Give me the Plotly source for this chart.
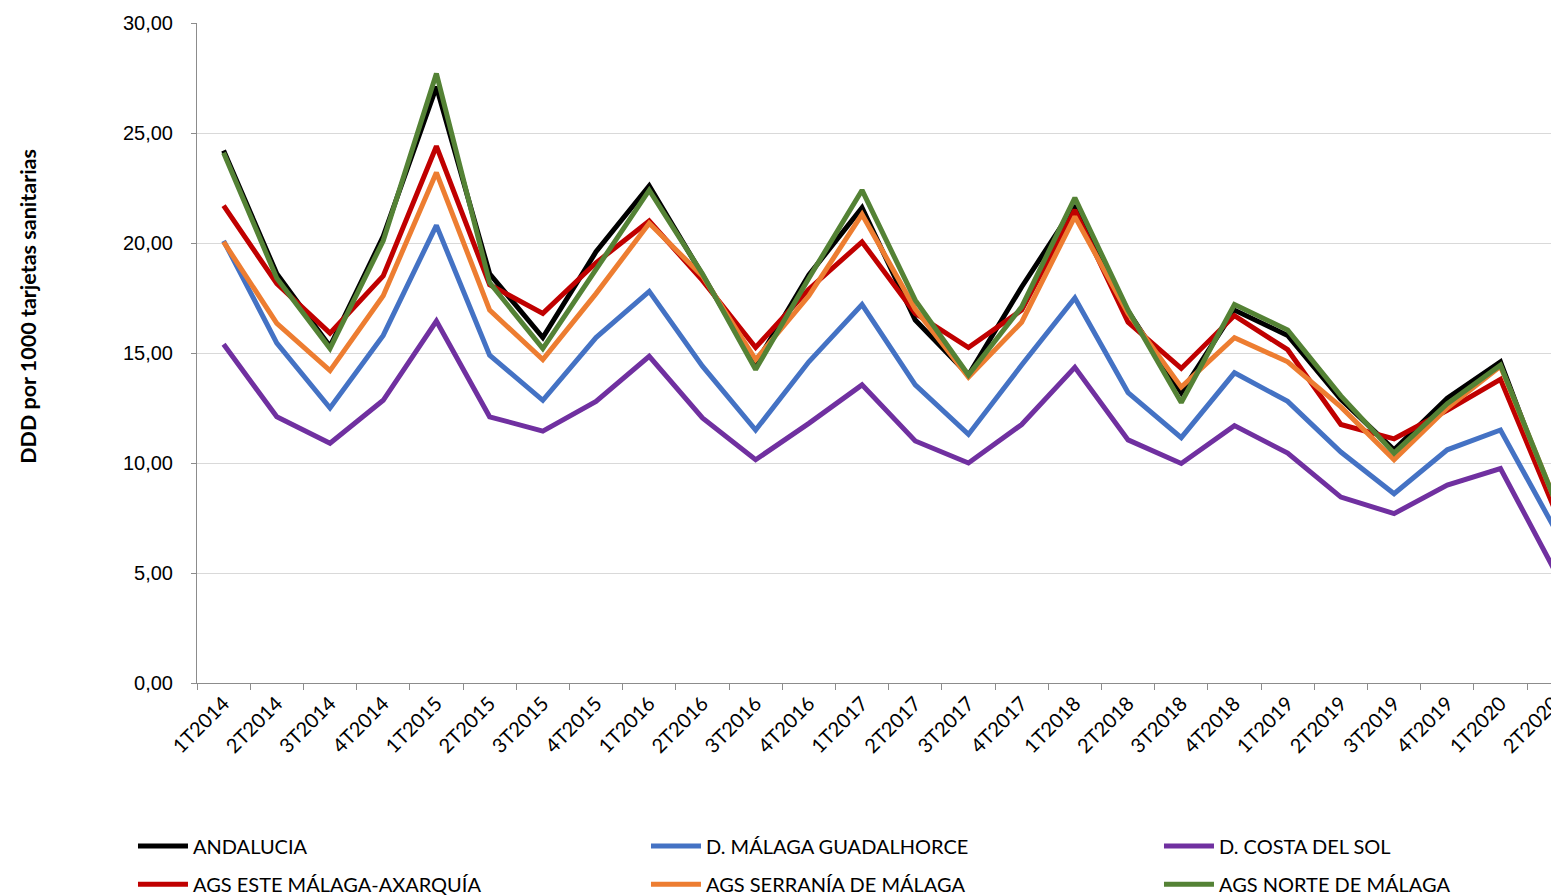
import plotly.graph_objects as go

# Quarters on the x axis
quarters = ['1T2014', '2T2014', '3T2014', '4T2014',
            '1T2015', '2T2015', '3T2015', '4T2015',
            '1T2016', '2T2016', '3T2016', '4T2016',
            '1T2017', '2T2017', '3T2017', '4T2017',
            '1T2018', '2T2018', '3T2018', '4T2018',
            '1T2019', '2T2019', '3T2019', '4T2019',
            '1T2020', '2T2020']

# DDD por 1000 tarjetas sanitarias
andalucia = [24.2, 18.6, 15.3, 20.3, 27.1, 18.6, 15.7, 19.6, 22.6, 18.6, 14.5, 18.55, 21.6,
             16.5, 14.0, 18.0, 21.7, 16.9, 13.2, 16.95, 15.8, 12.9, 10.6, 12.95, 14.6, 8.2]
guadalhorce = [20.1, 15.45, 12.5, 15.8, 20.8, 14.9, 12.85, 15.7, 17.8, 14.4, 11.5, 14.6, 17.2,
               13.55, 11.3, 14.45, 17.5, 13.2, 11.15, 14.1, 12.8, 10.5, 8.6, 10.6, 11.5, 7.1]
costa_sol = [15.4, 12.1, 10.9, 12.85, 16.45, 12.1, 11.45, 12.8, 14.85, 12.05, 10.15, 11.8, 13.55,
             11.0, 10.0, 11.75, 14.35, 11.05, 9.98, 11.7, 10.45, 8.45, 7.7, 9.0, 9.75, 5.2]
este_axarquia = [21.7, 18.15, 15.9, 18.5, 24.4, 18.1, 16.8, 19.1, 21.0, 18.3, 15.25, 17.9, 20.05,
                 16.8, 15.25, 16.95, 21.5, 16.4, 14.3, 16.7, 15.15, 11.75, 11.1, 12.4, 13.8, 8.0]
serrania = [20.05, 16.35, 14.2, 17.6, 23.2, 16.95, 14.7, 17.7, 20.9, 18.5, 14.7, 17.6, 21.3,
            17.0, 13.9, 16.4, 21.2, 16.8, 13.45, 15.7, 14.6, 12.55, 10.15, 12.5, 14.4, 8.45]
norte = [24.1, 18.4, 15.2, 20.1, 27.7, 18.2, 15.2, 18.8, 22.4, 18.6, 14.25, 18.4, 22.4,
         17.4, 14.0, 17.1, 22.05, 16.95, 12.75, 17.2, 16.05, 13.05, 10.45, 12.7, 14.45, 8.45]

series = [
    ('ANDALUCIA', andalucia, '#000000', 'legend'),
    ('D. MÁLAGA GUADALHORCE', guadalhorce, '#4472C4', 'legend'),
    ('D. COSTA DEL SOL', costa_sol, '#7030A0', 'legend'),
    ('AGS ESTE MÁLAGA-AXARQUÍA', este_axarquia, '#C00000', 'legend2'),
    ('AGS SERRANÍA DE MÁLAGA', serrania, '#ED7D31', 'legend2'),
    ('AGS NORTE DE MÁLAGA', norte, '#548235', 'legend2'),
]

fig = go.Figure()
for name, vals, color, leg in series:
    fig.add_trace(go.Scatter(
        x=quarters, y=vals, name=name, mode='lines',
        line=dict(color=color, width=5),
        legend=leg,
    ))

# the page puts the figure 8px in from the top-left corner
legend_font = dict(family='Lato', size=20, color='#000000')
legend_common = dict(orientation='h', xanchor='left', yanchor='middle',
                     entrywidth=448, entrywidthmode='pixels', itemwidth=50,
                     font=legend_font, bgcolor='rgba(0,0,0,0)')
fig.update_layout(
    width=1551, height=888,
    margin=dict(l=189, r=0, t=15, b=213, autoexpand=False),
    plot_bgcolor='white', paper_bgcolor='white',
    separators=',.',
    showlegend=True,
    legend=dict(x=-0.047, y=-0.247, **legend_common),
    legend2=dict(x=-0.047, y=-0.305, **legend_common),
    annotations=[dict(
        text='<b>DDD por 1000 tarjetas sanitarias</b>',
        xref='paper', yref='paper', x=(28 - 197) / 1362, y=0.57,
        xanchor='center', yanchor='middle',
        textangle=-90, showarrow=False,
        font=dict(family='Lato', size=21.5, color='#000000'),
    )],
)

fig.update_xaxes(
    type='category', range=[-0.5, 25.1],
    showline=True, linecolor='#8c8c8c', linewidth=1,
    ticks='outside', tickson='boundaries', ticklen=6, tickcolor='#8c8c8c',
    tickangle=-45, showgrid=False,
    tickfont=dict(family='Lato', size=20, color='#000000'),
)
fig.update_yaxes(
    range=[0, 30], dtick=5, tickformat='.2f',
    showline=True, linecolor='#8c8c8c', linewidth=1,
    ticks='outside', ticklen=5, tickcolor='#8c8c8c',
    showgrid=True, gridcolor='#d9d9d9', gridwidth=1,
    zeroline=False, ticklabelstandoff=14,
    tickfont=dict(family='Liberation Sans', size=20, color='#000000'),
)

fig.write_html('out.html')
